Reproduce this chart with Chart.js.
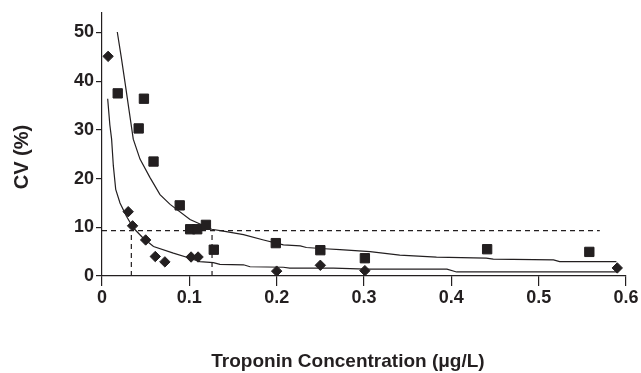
<!DOCTYPE html>
<html>
<head>
<meta charset="utf-8">
<script src="https://cdn.jsdelivr.net/npm/chart.js@4"></script>
<style>
  html, body { margin: 0; padding: 0; background: #fff; }
  #wrap { width: 641px; height: 373px; }
</style>
</head>
<body>
<div id="wrap"><canvas id="cvChart" width="641" height="373"></canvas></div>
<script>
// measured points, low-level assay (diamonds)
const diamondX = [0.007, 0.030, 0.035, 0.050, 0.061, 0.072, 0.102, 0.110, 0.200, 0.250, 0.301, 0.590];
const diamondY = [45.1, 13.2, 10.3, 7.4, 4.0, 2.9, 3.9, 3.9, 1.0, 2.2, 1.1, 1.65];

// measured points, other assay (squares)
const squareX = [0.018, 0.042, 0.048, 0.059, 0.089, 0.101, 0.109, 0.119, 0.128, 0.199, 0.250, 0.301, 0.441, 0.558];
const squareY = [37.5, 30.3, 36.4, 23.5, 14.5, 9.6, 9.6, 10.5, 5.4, 6.75, 5.3, 3.65, 5.5, 4.95];

// fitted precision profiles
const upperFitX = [0.0175, 0.022, 0.0263, 0.031, 0.0358, 0.0435, 0.055, 0.0664, 0.078, 0.1008, 0.1256, 0.139, 0.162, 0.185, 0.2077, 0.227, 0.234, 0.255, 0.2725, 0.307, 0.341, 0.383, 0.44, 0.448, 0.517, 0.524, 0.589];
const upperFitY = [50.1, 45, 39.8, 34, 28.1, 24, 20.2, 16.7, 14.7, 11.6, 9.6, 9.2, 8.5, 7.4, 6.4, 6.2, 5.85, 5.6, 5.4, 5.0, 4.3, 3.86, 3.65, 3.45, 3.3, 2.95, 2.95];
const lowerFitX = [0.0065, 0.009, 0.011, 0.013, 0.0157, 0.0206, 0.028, 0.036, 0.047, 0.059, 0.0817, 0.1008, 0.112, 0.1275, 0.135, 0.162, 0.1695, 0.2076, 0.215, 0.265, 0.303, 0.395, 0.406, 0.589];
const lowerFitY = [36.4, 31, 28.1, 22.6, 17.8, 15.0, 12.25, 9.85, 7.8, 6.05, 4.7, 3.65, 2.95, 2.75, 2.4, 2.3, 1.9, 1.8, 1.6, 1.6, 1.4, 1.4, 0.83, 0.83];

// 10% CV cut-off and where each profile crosses it
const cvLimit = 9.3;
const limitEndX = 0.57;
const crossX = [0.0336, 0.126];

const xTicks = [0, 0.1, 0.2, 0.3, 0.4, 0.5, 0.6];
const yTicks = [0, 10, 20, 30, 40, 50];

const ink = '#231f20';
const toPts = (xs, ys) => xs.map((x, i) => ({ x: x, y: ys[i] }));

const lineSet = (data, dash) => ({
  type: 'line',
  data: data,
  borderColor: ink,
  borderWidth: 1.2,
  borderDash: dash || [],
  pointRadius: 0,
  fill: false,
  tension: 0
});

// axis titles drawn by hand so they sit where the original has them
const axisTitles = {
  id: 'axisTitles',
  afterDraw(chart) {
    const c = chart.ctx;
    c.save();
    c.fillStyle = ink;
    c.textAlign = 'center';
    c.textBaseline = 'alphabetic';
    c.font = 'bold 19px "Liberation Sans", Arial, sans-serif';
    c.fillText('Troponin Concentration (\u03bcg/L)', 348, 366.5);
    c.font = 'bold 20px "Liberation Sans", Arial, sans-serif';
    c.translate(28, 157);
    c.rotate(-Math.PI / 2);
    c.fillText('CV (%)', 0, 0);
    c.restore();
  }
};

const ctx = document.getElementById('cvChart').getContext('2d');
const cvChart = new Chart(ctx, {
  type: 'scatter',
  data: {
    datasets: [
      {
        label: 'Assay A',
        data: toPts(diamondX, diamondY),
        pointStyle: 'rectRot',
        pointRadius: 5.2,
        backgroundColor: ink,
        borderColor: ink,
        borderWidth: 1
      },
      {
        label: 'Assay B',
        data: toPts(squareX, squareY),
        pointStyle: 'rect',
        pointRadius: 6.6,
        backgroundColor: ink,
        borderColor: ink,
        borderWidth: 1
      },
      lineSet(toPts(upperFitX, upperFitY)),
      lineSet(toPts(lowerFitX, lowerFitY)),
      lineSet([{ x: 0, y: cvLimit }, { x: limitEndX, y: cvLimit }], [5, 4]),
      lineSet([{ x: crossX[0], y: 0 }, { x: crossX[0], y: cvLimit }], [5, 4]),
      lineSet([{ x: crossX[1], y: 0 }, { x: crossX[1], y: cvLimit }], [5, 4])
    ]
  },
  options: {
    responsive: false,
    animation: false,
    layout: { padding: { top: 13, right: 15, left: 0, bottom: 0 } },
    plugins: {
      legend: { display: false },
      tooltip: { enabled: false }
    },
    scales: {
      x: {
        type: 'linear',
        min: 0,
        max: 0.6,
        afterBuildTicks: (s) => { s.ticks = xTicks.map(v => ({ value: v })); },
        afterFit: (s) => { s.height = 97; },
        ticks: {
          color: ink,
          padding: 1,
          font: { family: '"Liberation Sans", Arial, sans-serif', size: 18, weight: 'bold' }
        },
        grid: { drawOnChartArea: false, tickLength: 10, color: ink, lineWidth: 1.2 },
        border: { color: ink, width: 1.2 }
      },
      y: {
        min: 0,
        max: 54,
        afterBuildTicks: (s) => { s.ticks = yTicks.map(v => ({ value: v })); },
        afterFit: (s) => { s.width = 102; },
        ticks: {
          color: ink,
          padding: 2,
          font: { family: '"Liberation Sans", Arial, sans-serif', size: 18, weight: 'bold' }
        },
        grid: { drawOnChartArea: false, tickLength: 6, color: ink, lineWidth: 1.2 },
        border: { color: ink, width: 1.2 }
      }
    }
  },
  plugins: [axisTitles]
});
</script>
</body>
</html>
